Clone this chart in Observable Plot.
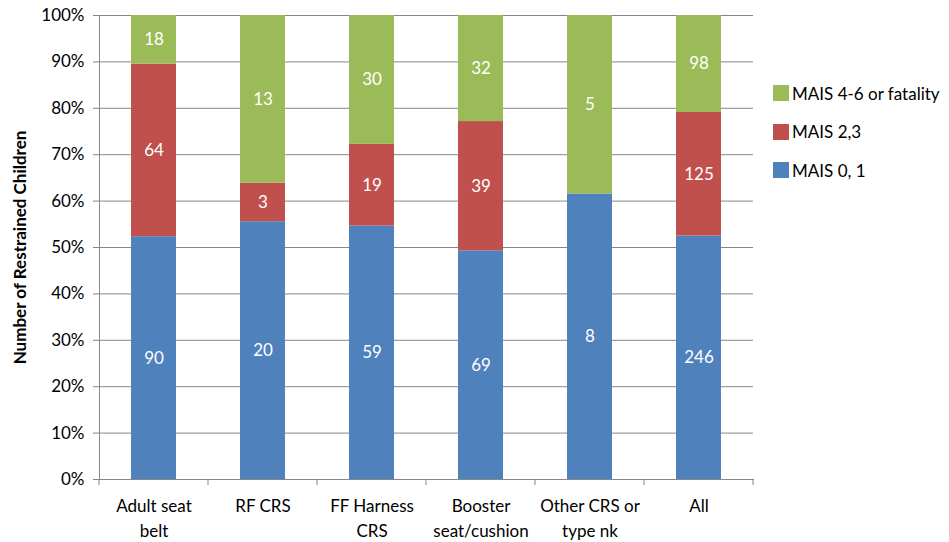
<!DOCTYPE html>
<html>
<head>
<meta charset="utf-8">
<script src="https://cdn.jsdelivr.net/npm/d3@7"></script>
<script src="https://cdn.jsdelivr.net/npm/@observablehq/plot@0.6"></script>
<style>
  html, body { margin: 0; padding: 0; background: #fff; }
  #wrap { position: relative; width: 949px; height: 542px; font-family: Lato, "Open Sans", sans-serif; }
  #legend { position: absolute; left: 773px; top: 83px; font-size: 17px; color: #000; }
  #legend .item { display: flex; align-items: center; height: 20px; margin-bottom: 18.5px; }
  #legend .sw { width: 16px; height: 16px; margin-right: 3px; }
  svg [aria-label="y-axis label"] text { font-weight: bold; }
</style>
</head>
<body>
<div id="wrap"></div>
<script>
const categories = ["Adult seat\nbelt", "RF CRS", "FF Harness\nCRS", "Booster\nseat/cushion", "Other CRS or\ntype nk", "All"];
const series = ["MAIS 0, 1", "MAIS 2,3", "MAIS 4-6 or fatality"];
const mais01 = [90, 20, 59, 69, 8, 246];
const mais23 = [64, 3, 19, 39, 0, 125];
const mais46 = [18, 13, 30, 32, 5, 98];
const colors = ["#4F81BD", "#C0504D", "#9BBB59"];
const yTicks = [0, 0.1, 0.2, 0.3, 0.4, 0.5, 0.6, 0.7, 0.8, 0.9, 1.0];

const seriesValues = [mais01, mais23, mais46];
const data = [];
categories.forEach((c, i) => {
  series.forEach((s, j) => {
    data.push({category: c, series: s, value: seriesValues[j][i]});
  });
});

const W = 949, H = 542, mL = 99, mR = 196, mT = 15, mB = 63;

const boundaryTicks = (index, scales, values, dimensions) => {
  const {width, height, marginLeft, marginRight, marginBottom} = dimensions;
  const n = categories.length;
  const step = (width - marginLeft - marginRight) / n;
  const g = d3.create("svg:g");
  for (let k = 0; k <= n; k++) {
    const x = marginLeft + k * step;
    g.append("line")
      .attr("x1", x).attr("x2", x)
      .attr("y1", height - marginBottom).attr("y2", height - marginBottom + 6)
      .attr("stroke", "#878787").attr("stroke-width", 1);
  }
  return g.node();
};

const stackOpts = {x: "category", y: "value", z: "series", order: series, offset: "normalize"};

const chart = Plot.plot({
  width: W,
  height: H,
  marginLeft: mL,
  marginRight: mR,
  marginTop: mT,
  marginBottom: mB,
  style: {fontFamily: "Lato, 'Open Sans', sans-serif", fontSize: "17px", color: "#000", background: "#fff"},
  x: {domain: categories, paddingInner: 0.59, paddingOuter: 0.295},
  y: {domain: [0, 1]},
  color: {domain: series, range: colors},
  marks: [
    Plot.ruleY(yTicks, {stroke: "#878787", strokeWidth: 1}),
    Plot.ruleY(yTicks, {x1: 0, x2: 0, stroke: "#878787", insetLeft: -6}),
    Plot.barY(data, Plot.stackY({...stackOpts, fill: "series", inset: 0})),
    Plot.text(data, Plot.stackY({...stackOpts, filter: d => d.value > 0, text: d => String(d.value), fill: "white", fontSize: 17})),
    Plot.axisY({ticks: yTicks, tickFormat: d => Math.round(d * 100) + "%", tickSize: 6, tickPadding: 9, stroke: "#878787",
      label: "Number of Restrained Children", labelAnchor: "center", labelArrow: false, labelOffset: 86}),
    Plot.axisX({tickSize: 0, tickPadding: 14, lineHeight: 1.5, label: null}),
    Plot.frame({anchor: "left", stroke: "#878787"}),
    Plot.frame({anchor: "bottom", stroke: "#878787"}),
    boundaryTicks
  ]
});

const wrap = document.getElementById("wrap");
wrap.appendChild(chart);

const legend = document.createElement("div");
legend.id = "legend";
[2, 1, 0].forEach(j => {
  const item = document.createElement("div");
  item.className = "item";
  const sw = document.createElement("div");
  sw.className = "sw";
  sw.style.background = colors[j];
  const t = document.createElement("span");
  t.textContent = series[j];
  item.appendChild(sw);
  item.appendChild(t);
  legend.appendChild(item);
});
wrap.appendChild(legend);
</script>
</body>
</html>
